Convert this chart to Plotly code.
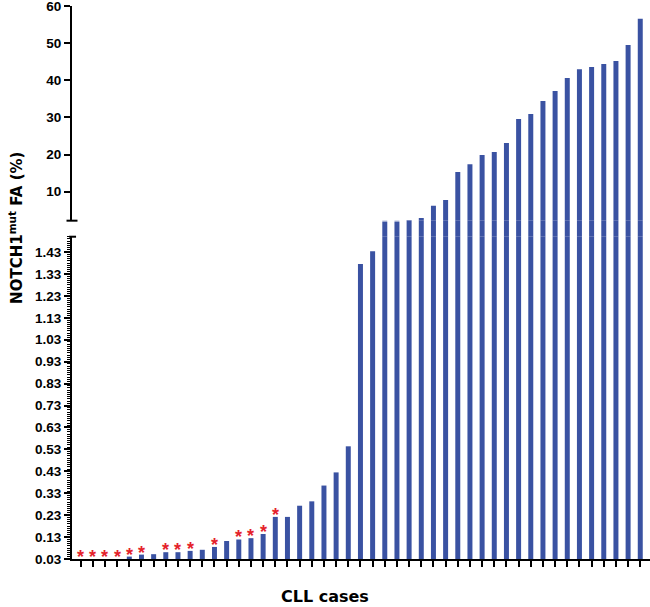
import plotly.graph_objects as go

# CLL cases ordered by NOTCH1 mutation fraction
cases = list(range(1, 48))
fa_values = [
    0.03, 0.03, 0.03, 0.03, 0.041, 0.05, 0.052, 0.061, 0.061, 0.067,
    0.072, 0.085, 0.112, 0.119, 0.125, 0.144, 0.222, 0.222, 0.273, 0.293,
    0.365, 0.425, 0.544, 1.375, 1.434, 2.16, 2.16, 2.3, 2.9, 6.2,
    7.8, 15.3, 17.4, 19.9, 20.7, 23.1, 29.6, 30.9, 34.4, 37.1,
    40.6, 43.0, 43.6, 44.4, 45.2, 49.5, 56.6,
]
# cases flagged with a red asterisk
starred = [1, 2, 3, 4, 5, 6, 8, 9, 10, 12, 14, 15, 16, 17]

low_ticks = [round(0.03 + 0.1 * i, 2) for i in range(15)]
high_ticks = [10, 20, 30, 40, 50, 60]

BAR = "#3A52A2"
FONT = "Arial, Liberation Sans, sans-serif"
TITLE_FONT = "DejaVu Sans, Arial, sans-serif"

fig = go.Figure()
for ax in ["y", "y3", "y2"]:
    fig.add_trace(go.Bar(
        x=cases, y=fa_values, yaxis=ax, xaxis="x",
        marker=dict(color=BAR, line=dict(width=0)),
        showlegend=False, hoverinfo="x+y",
    ))

ann = []
for c in starred:
    v = max(fa_values[c - 1], 0.03)
    ann.append(dict(x=c, y=v, xref="x", yref="y", text="*", showarrow=False,
                    yanchor="middle", yshift=2,
                    font=dict(family=FONT, size=18, color="#E4222B", weight="bold")))

ann.append(dict(x=-0.097, y=0.5986, xref="paper", yref="paper",
                text="NOTCH1<sup>mut</sup> FA (%)", textangle=-90, showarrow=False,
                xanchor="center", yanchor="middle",
                font=dict(family=TITLE_FONT, size=15, color="black", weight="bold")))
ann.append(dict(x=0.437, y=-0.068, xref="paper", yref="paper",
                text="CLL cases", showarrow=False, xanchor="center", yanchor="middle",
                font=dict(family=TITLE_FONT, size=16, color="black", weight="bold")))

tick_font = dict(family=FONT, size=13.5, color="black", weight="bold")

low_top = 0.5828
high_bot = 0.6118

fig.update_layout(
    width=650, height=607,
    margin=dict(l=72, r=0, t=6, b=48),
    plot_bgcolor="white", paper_bgcolor="white",
    bargap=0.59,
    annotations=ann,
    xaxis=dict(
        range=[0.29, 47.8], anchor="y",
        tickvals=cases, showticklabels=False,
        ticks="outside", ticklen=6, tickwidth=2, tickcolor="black",
        showline=True, linewidth=2, linecolor="black",
        showgrid=False, zeroline=False,
    ),
    yaxis=dict(
        domain=[0, low_top], range=[0.03, 1.5], anchor="x",
        tickvals=low_ticks, ticktext=[f"{t:.2f}" for t in low_ticks],
        ticks="outside", ticklen=6, tickwidth=2, tickcolor="black",
        minor=dict(tick0=0.03, dtick=0.01, ticks="outside", ticklen=3,
                   tickwidth=1, tickcolor="black", showgrid=False),
        showline=True, linewidth=2, linecolor="black",
        showgrid=False, zeroline=False, tickfont=tick_font,
        ticklabeloverflow="allow",
    ),
    yaxis3=dict(
        domain=[low_top, high_bot], range=[1.5, 2.2], anchor="x",
        visible=False, showgrid=False, zeroline=False,
    ),
    yaxis2=dict(
        domain=[high_bot, 1], range=[2.2, 60], anchor="x",
        tickvals=high_ticks,
        ticks="outside", ticklen=6, tickwidth=2, tickcolor="black",
        showline=True, linewidth=2, linecolor="black",
        showgrid=False, zeroline=False, tickfont=tick_font,
        ticklabeloverflow="allow",
    ),
    shapes=[
        # end caps at the axis break
        dict(type="line", xref="paper", yref="paper", x0=-0.0095, x1=0.0095,
             y0=high_bot, y1=high_bot, line=dict(color="black", width=2)),
        dict(type="line", xref="paper", yref="paper", x0=-0.005, x1=0.007,
             y0=low_top, y1=low_top, line=dict(color="black", width=2)),
    ],
)

fig.write_html("out.html", config={"displayModeBar": False},
               post_script="document.body.style.margin='0px';")
